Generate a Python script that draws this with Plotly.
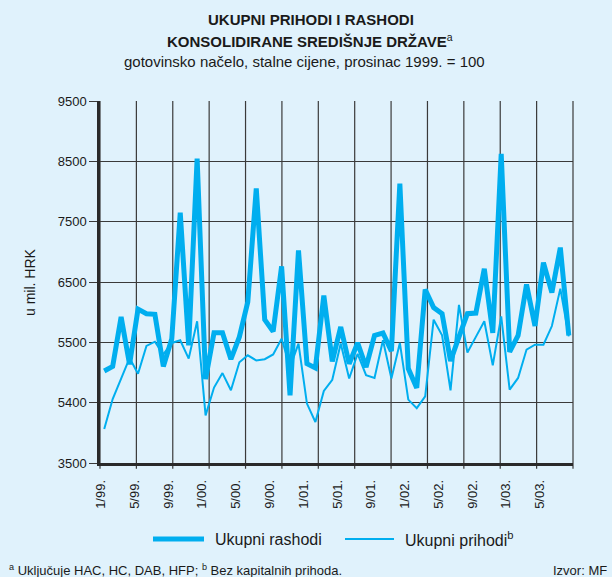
import plotly.graph_objects as go

# Monthly series, 1/1999 - 8/2003 (mil. HRK, constant prices)
rashodi = [
    5025, 5100, 5920, 5135, 6050, 5975, 5965, 5100, 5560, 7650, 5450, 8545,
    4890, 5660, 5660, 5220, 5590, 6170, 8050, 5875, 5680, 6760, 4620, 7025,
    5145, 5075, 6275, 5185, 5755, 5145, 5490, 5090, 5615, 5655, 5355, 8130,
    5065, 4745, 6375, 6075, 5975, 5190, 5590, 5975, 5985, 6720, 5655, 8625,
    5340, 5615, 6460, 5770, 6820, 6325, 7070, 5615,
]
prihodi = [
    4065, 4560, 4900, 5240, 4980, 5440, 5510, 5300, 5490, 5535, 5230, 5850,
    4290, 4750, 4990, 4705, 5170, 5285, 5200, 5220, 5300, 5560, 5090, 5480,
    4485, 4180, 4695, 4880, 5480, 4900, 5310, 4955, 4910, 5535, 4900, 5490,
    4550, 4410, 4605, 5875, 5615, 4705, 6120, 5330, 5590, 5850, 5120, 5930,
    4715, 4910, 5380, 5460, 5460, 5770, 6390, 5600,
]
x_labels = ["1/99.", "5/99.", "9/99.", "1/00.", "5/00.", "9/00.", "1/01.",
            "5/01.", "9/01.", "1/02.", "5/02.", "9/02.", "1/03.", "5/03."]
label_step = 4
y_ticks = [3500, 4500, 5500, 6500, 7500, 8500, 9500]
y_tick_text = ["3500", "5400", "5500", "6500", "7500", "8500", "9500"]

W, H = 612, 577
L, R, T, B = 100, 573, 101, 463          # plot area in pixels
BG = "#e0f2fc"
LINE = "#00aeef"
GRID = "#3a3a3a"
TEXT = "#1a1a1a"
FONT = "Liberation Sans, Arial, sans-serif"


def px(x):
    return (x - L) / (R - L)


def py(y):
    return (B - y) / (B - T)


n = len(rashodi)
months = list(range(n))

fig = go.Figure()
fig.add_trace(go.Scatter(x=months, y=prihodi, mode="lines",
                         line=dict(color=LINE, width=2), showlegend=False))
fig.add_trace(go.Scatter(x=months, y=rashodi, mode="lines",
                         line=dict(color=LINE, width=5), showlegend=False))

shapes = []
# vertical grid: 13 equal divisions of the plot width, with short ticks below
n_div = 13
for k in range(n_div + 1):
    shapes.append(dict(type="line", xref="paper", yref="paper",
                       x0=k / n_div, x1=k / n_div, y0=-0.016, y1=1,
                       line=dict(color=GRID, width=1.2), layer="below"))

# legend samples
leg_y = py(539)
shapes.append(dict(type="line", xref="paper", yref="paper",
                   x0=px(153), x1=px(204), y0=leg_y, y1=leg_y,
                   line=dict(color=LINE, width=5)))
shapes.append(dict(type="line", xref="paper", yref="paper",
                   x0=px(345), x1=px(394), y0=leg_y, y1=leg_y,
                   line=dict(color=LINE, width=2)))

annotations = [
    dict(text="<b>UKUPNI PRIHODI I RASHODI</b>", x=px(311), y=py(20),
         font=dict(size=15, color=TEXT)),
    dict(text="<b>KONSOLIDIRANE SREDIŠNJE DRŽAVE</b><sup>a</sup>",
         x=px(310), y=py(40), font=dict(size=15, color=TEXT)),
    dict(text="gotovinsko načelo, stalne cijene, prosinac 1999. = 100",
         x=px(304), y=py(61), font=dict(size=15, color=TEXT)),
    dict(text="u mil. HRK", x=px(30), y=py(282), textangle=-90,
         font=dict(size=14, color=TEXT)),
    dict(text="Ukupni rashodi", x=px(213), y=leg_y, xanchor="left",
         font=dict(size=16, color=TEXT)),
    dict(text="Ukupni prihodi<sup>b</sup>", x=px(403), y=leg_y,
         xanchor="left", font=dict(size=16, color=TEXT)),
    dict(text="<sup>a</sup> Uključuje HAC, HC, DAB, HFP; <sup>b</sup> Bez kapitalnih prihoda.",
         x=px(7), y=py(570), xanchor="left",
         font=dict(size=13, color=TEXT)),
    dict(text="Izvor: MF", x=px(609), y=py(570), xanchor="right",
         font=dict(size=13, color=TEXT)),
]
for a in annotations:
    a.setdefault("xref", "paper")
    a.setdefault("yref", "paper")
    a.setdefault("showarrow", False)
    a.setdefault("xanchor", "center")
    a.setdefault("yanchor", "middle")

fig.update_layout(
    width=W, height=H,
    margin=dict(l=L, r=W - R, t=T, b=H - B, pad=0),
    paper_bgcolor=BG, plot_bgcolor=BG,
    font=dict(family=FONT, color=TEXT),
    shapes=shapes, annotations=annotations,
    showlegend=False,
)
fig.update_xaxes(
    range=[-0.5, n - 0.5],
    tickmode="array",
    tickvals=[i * label_step - 0.4 for i in range(len(x_labels))],
    ticktext=x_labels,
    tickangle=-90,
    ticks="outside", ticklen=9, tickcolor="rgba(0,0,0,0)",
    tickfont=dict(size=13, color=TEXT),
    showgrid=False, zeroline=False,
    showline=True, linecolor="#2a2a2a", linewidth=2.5,
)
fig.update_yaxes(
    range=[3500, 9500],
    tickmode="array", tickvals=y_ticks, ticktext=y_tick_text,
    ticks="outside", ticklen=8, tickcolor=GRID, tickwidth=1.2,
    tickfont=dict(size=13, color=TEXT),
    showgrid=True, gridcolor=GRID, gridwidth=1.2,
    zeroline=False,
    showline=True, linecolor="#2a2a2a", linewidth=2.5,
)

fig.write_html("out.html")
